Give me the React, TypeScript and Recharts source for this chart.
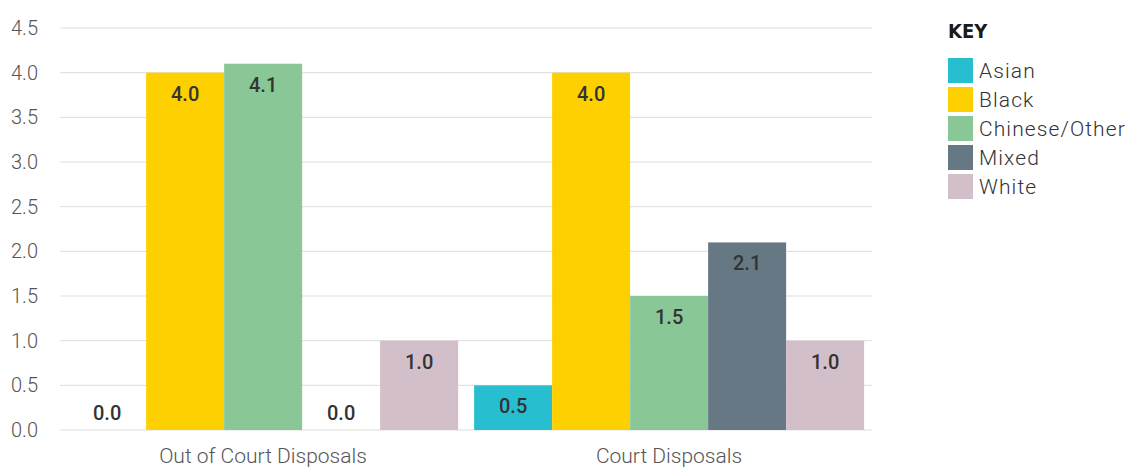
import React from "react";
import { BarChart, Bar, XAxis, YAxis, CartesianGrid, LabelList } from "recharts";

const categories = ["Out of Court Disposals", "Court Disposals"];
const seriesNames = ["Asian", "Black", "Chinese/Other", "Mixed", "White"];
const asian = [0.0, 0.5];
const black = [4.0, 4.0];
const chineseOther = [4.1, 1.5];
const mixed = [0.0, 2.1];
const white = [1.0, 1.0];
const yTicks = [0, 0.5, 1.0, 1.5, 2.0, 2.5, 3.0, 3.5, 4.0, 4.5];
const colors = ["#27BFCF", "#FFD000", "#8AC796", "#667884", "#D3BFCA"];

const seriesValues = [asian, black, chineseOther, mixed, white];
const data = categories.map((name, i) => {
  const row: any = { name };
  seriesNames.forEach((s, j) => {
    row[s] = seriesValues[j][i];
  });
  return row;
});

const FONT = "Roboto, 'Liberation Sans', sans-serif";

const renderLabel = (props: any) => {
  const { x, y, width, height, value } = props;
  const cx = Number(x) + Number(width) / 2;
  const h = Number(height);
  const cy = h < 30 ? Number(y) + h - 17 : Number(y) + 21;
  return (
    <text
      x={cx}
      y={cy}
      textAnchor="middle"
      dominantBaseline="central"
      fill="#333333"
      fontFamily={FONT}
      fontWeight={500}
      fontSize={20}
    >
      {Number(value).toFixed(1)}
    </text>
  );
};

const renderShape = (props: any) => {
  const { x, y, width, height, fill, value } = props;
  const v = Array.isArray(value) ? value[1] - value[0] : value;
  if (!v) return <g />;
  return <rect x={x} y={y} width={width} height={height} fill={fill} />;
};

export default function App() {
  return (
    <div style={{ position: "absolute", left: 0, top: 0, width: 1129, height: 467, background: "#fff" }}>
      <BarChart
        width={1129}
        height={467}
        data={data}
        margin={{ top: 28, right: 257, bottom: 0, left: 0 }}
        barCategoryGap="2%"
        barGap={0}
      >
        <CartesianGrid vertical={false} stroke="#dddddd" />
        <XAxis
          xAxisId="frame"
          type="number"
          domain={[0, 2]}
          ticks={[0, 1, 2]}
          allowDataOverflow
          height={0}
          tickSize={8}
          tick={{ fill: "transparent", fontSize: 1 }}
          axisLine={{ stroke: "#cccccc" }}
          tickLine={{ stroke: "#cccccc" }}
        />
        <XAxis
          dataKey="name"
          height={37}
          axisLine={false}
          tickLine={false}
          tickMargin={12}
          tick={{ fill: "#555555", fontSize: 21, fontFamily: FONT, fontWeight: 300 }}
        />
        <YAxis
          domain={[0, 4.5]}
          ticks={yTicks}
          width={60}
          axisLine={false}
          tickLine={false}
          tickMargin={16}
          tickFormatter={(v: number) => v.toFixed(1)}
          tick={{ fill: "#555555", fontSize: 20, fontFamily: FONT, fontWeight: 300 }}
        />
        {seriesNames.map((s, j) => (
          <Bar
            key={s}
            dataKey={s}
            fill={colors[j]}
            isAnimationActive={false}
            minPointSize={1}
            shape={renderShape}
          >
            <LabelList dataKey={s} content={renderLabel} />
          </Bar>
        ))}
      </BarChart>
      <div style={{ position: "absolute", left: 948, top: 18, fontFamily: FONT }}>
        <div
          style={{
            fontFamily: "'DejaVu Sans Condensed', 'DejaVu Sans', sans-serif",
            fontWeight: 900,
            fontSize: 20,
            color: "#1a1a1a",
            letterSpacing: 0,
            lineHeight: "26px",
            marginBottom: 12,
          }}
        >
          KEY
        </div>
        {seriesNames.map((s, j) => (
          <div key={s} style={{ display: "flex", alignItems: "center", height: 29 }}>
            <div style={{ width: 25, height: 25, background: colors[j], marginRight: 6 }} />
            <span style={{ fontSize: 21, fontWeight: 300, color: "#333", letterSpacing: 1.1 }}>{s}</span>
          </div>
        ))}
      </div>
    </div>
  );
}
